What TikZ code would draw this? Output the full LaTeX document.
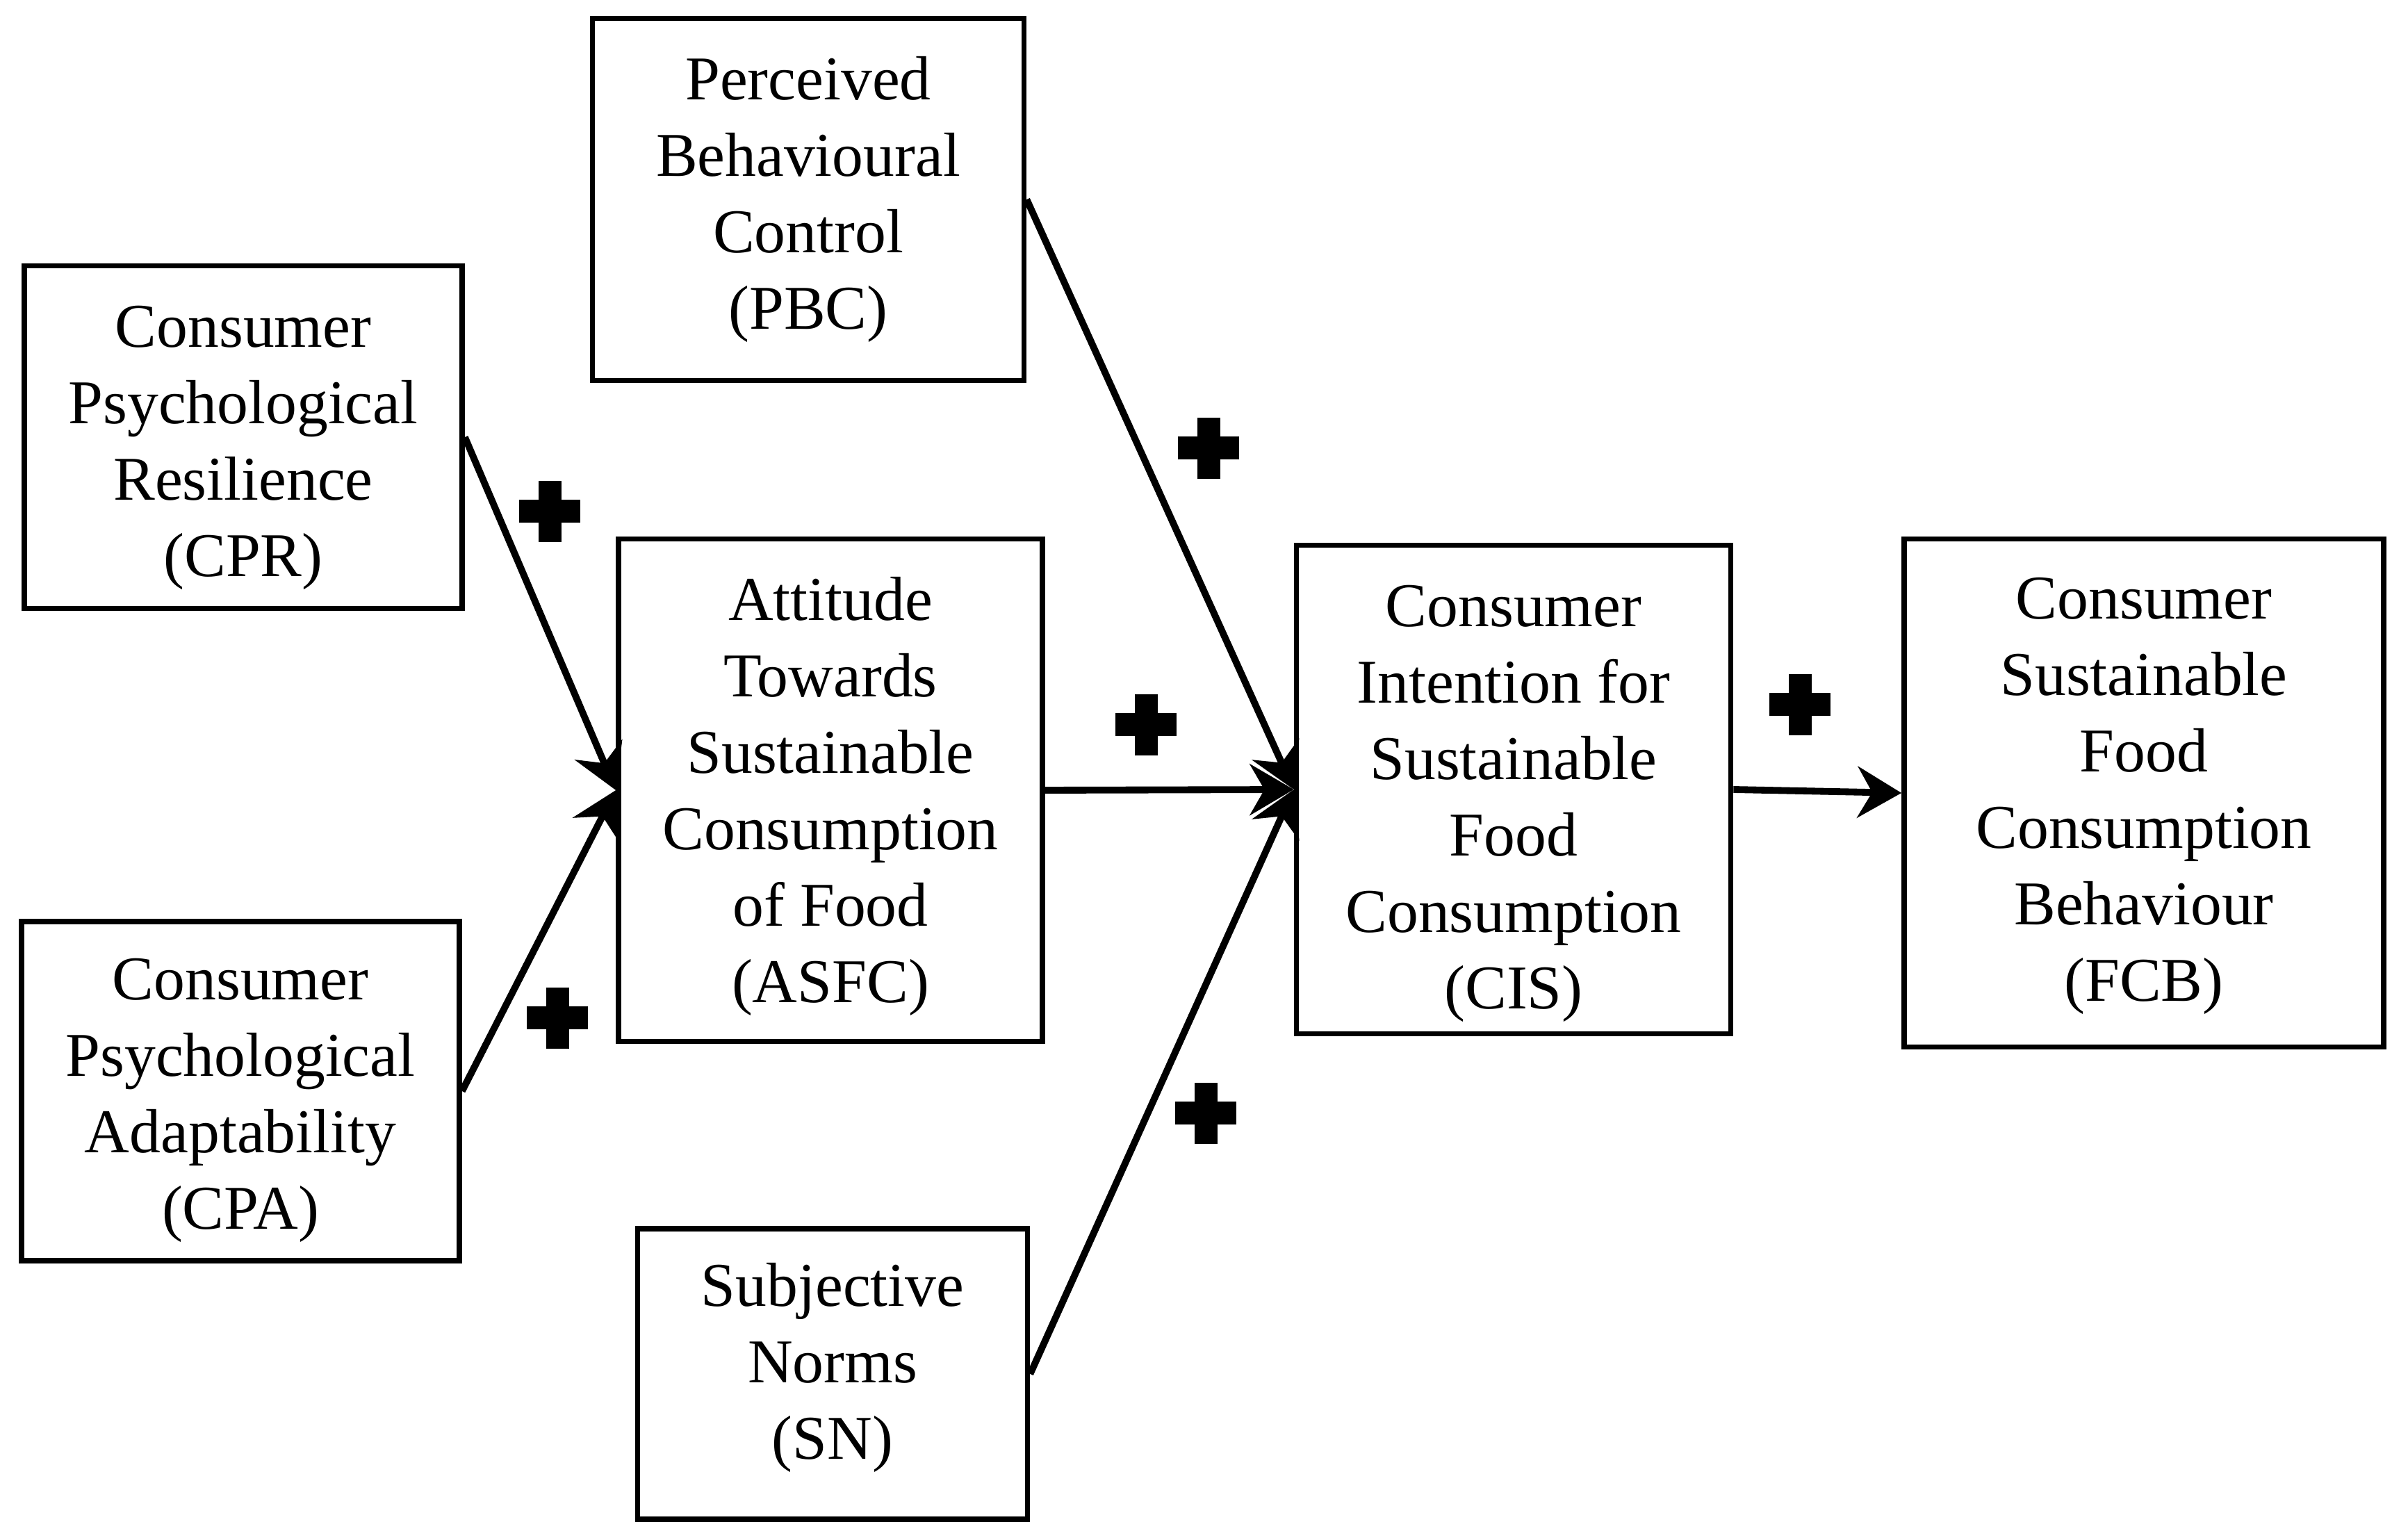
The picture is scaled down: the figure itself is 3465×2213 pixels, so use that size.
\documentclass[tikz,border=0pt]{standalone}
\usepackage{fontspec}
\setmainfont{Liberation Serif}
\usetikzlibrary{arrows.meta}
\tikzset{
  box/.style={draw=black, line width=2.2pt, fill=white, inner sep=0pt},
  boxtext/.style={inner sep=0pt, align=center, font=\fontsize{25.5}{31.3}\selectfont},
  link/.style={line width=2.8pt, -{Stealth[length=18pt, width=21pt, inset=6pt]}},
  plusmark/.style={inner sep=0pt, minimum width=8.8mm, minimum height=8.8mm,
    path picture={
      \fill[black] ([xshift=-4.4mm,yshift=-1.65mm]path picture bounding box.center) rectangle ([xshift=4.4mm,yshift=1.65mm]path picture bounding box.center);
      \fill[black] ([xshift=-1.65mm,yshift=-4.4mm]path picture bounding box.center) rectangle ([xshift=1.65mm,yshift=4.4mm]path picture bounding box.center);
    }}
}
\begin{document}
\begin{tikzpicture}[x=0.1mm,y=-0.1mm]
\useasboundingbox[fill=white] (0,0) rectangle (3465,2213);
\node[box, minimum width=62.1mm, minimum height=52.1mm,
  label={[boxtext]center:Perceived\\Behavioural\\Control\\(PBC)}] (pbc) at (1163,287) {};
\node[box, minimum width=63.0mm, minimum height=49.3mm,
  label={[boxtext, yshift=-1.5mm]center:Consumer\\Psychological\\Resilience\\(CPR)}] (cpr) at (350,629) {};
\node[box, minimum width=61.0mm, minimum height=72.3mm,
  label={[boxtext, yshift=-0.9mm]center:Attitude\\Towards\\Sustainable\\Consumption\\of Food\\(ASFC)}] (asfc) at (1195,1137) {};
\node[box, minimum width=62.5mm, minimum height=70.3mm,
  label={[boxtext, yshift=-2.0mm]center:Consumer\\Intention for\\Sustainable\\Food\\Consumption\\(CIS)}] (cis) at (2178,1136) {};
\node[box, minimum width=69.0mm, minimum height=73.1mm,
  label={[boxtext, yshift=-0.4mm]center:Consumer\\Sustainable\\Food\\Consumption\\Behaviour\\(FCB)}] (fcb) at (3085,1141) {};
\node[box, minimum width=63.0mm, minimum height=48.8mm,
  label={[boxtext, yshift=-1.3mm]center:Consumer\\Psychological\\Adaptability\\(CPA)}] (cpa) at (346,1570) {};
\node[box, minimum width=56.1mm, minimum height=41.8mm,
  label={[boxtext, yshift=0.9mm]center:Subjective\\Norms\\(SN)}] (sn) at (1198,1977) {};

\draw[link] (cpr.east) -- (asfc.west);
\draw[link] (cpa.east) -- (asfc.west);
\draw[link] (asfc.east) -- (cis.west);
\draw[link] (pbc.east) -- (cis.west);
\draw[link] (sn.east) -- (cis.west);
\draw[link] (cis.east) -- (fcb.west);

\node[plusmark] (p1) at (791,736) {};
\node[plusmark] (p2) at (802,1465) {};
\node[plusmark] (p3) at (1739,645) {};
\node[plusmark] (p4) at (1649,1043) {};
\node[plusmark] (p5) at (1735,1602) {};
\node[plusmark] (p6) at (2590,1014) {};
\end{tikzpicture}
\end{document}
